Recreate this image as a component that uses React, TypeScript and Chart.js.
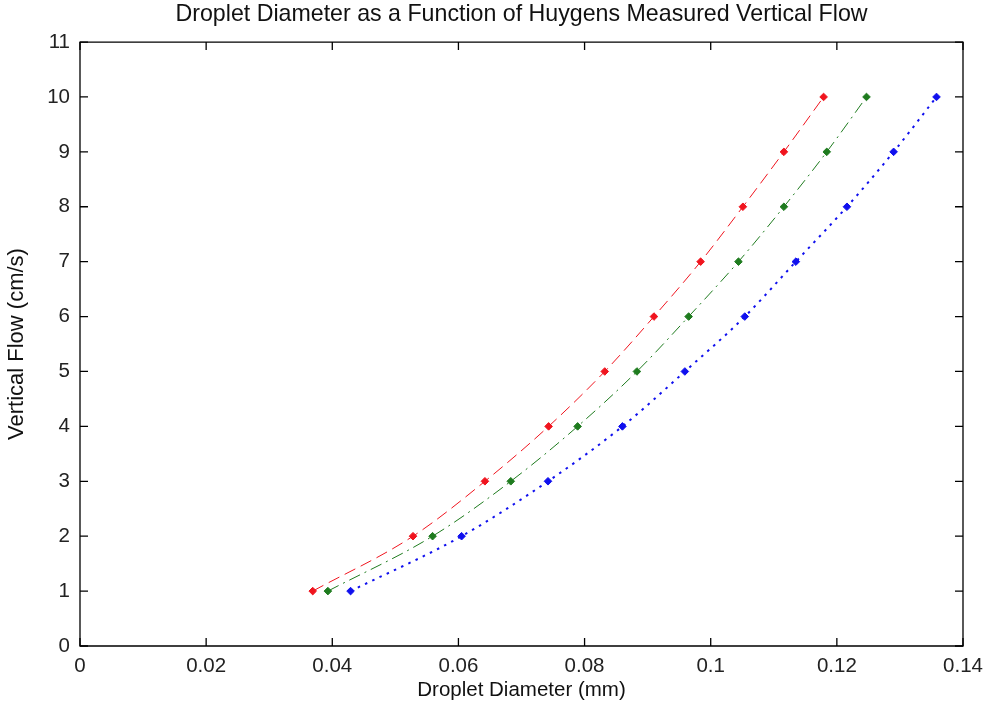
import React, { useEffect, useRef } from "react";
import { Chart, registerables } from "chart.js";

Chart.register(...registerables);

const titleText = "Droplet Diameter as a Function of Huygens Measured Vertical Flow";
const xLabel = "Droplet Diameter (mm)";
const yLabel = "Vertical Flow (cm/s)";

const flow = [1, 2, 3, 4, 5, 6, 7, 8, 9, 10];
const redDiameter = [0.0369, 0.0528, 0.0642, 0.0743, 0.0832, 0.091, 0.0984, 0.1051, 0.1116, 0.1179];
const greenDiameter = [0.0393, 0.0559, 0.0683, 0.0789, 0.0883, 0.0965, 0.1044, 0.1116, 0.1184, 0.1247];
const blueDiameter = [0.0429, 0.0605, 0.0742, 0.086, 0.0959, 0.1054, 0.1135, 0.1216, 0.129, 0.1358];

const xMin = 0;
const xMax = 0.14;
const xStep = 0.02;
const yMin = 0;
const yMax = 11;
const yStep = 1;

const FONT = 'Arial, "Liberation Sans", sans-serif';

const boxTicks = {
  id: "boxTicks",
  afterDatasetsDraw(chart: any) {
    const { ctx, chartArea } = chart;
    const { left, right, top, bottom } = chartArea;
    const xs = chart.scales.x;
    const ys = chart.scales.y;
    const len = 8;
    ctx.save();
    ctx.strokeStyle = "#000";
    ctx.lineWidth = 1.3;
    ctx.beginPath();
    ctx.rect(left, top, right - left, bottom - top);
    ctx.stroke();
    ctx.beginPath();
    xs.ticks.forEach((t: any) => {
      const px = xs.getPixelForValue(t.value);
      ctx.moveTo(px, bottom);
      ctx.lineTo(px, bottom - len);
      ctx.moveTo(px, top);
      ctx.lineTo(px, top + len);
    });
    ys.ticks.forEach((t: any) => {
      const py = ys.getPixelForValue(t.value);
      ctx.moveTo(left, py);
      ctx.lineTo(left + len, py);
      ctx.moveTo(right, py);
      ctx.lineTo(right - len, py);
    });
    ctx.stroke();
    ctx.restore();
  },
};

function makeSeries(xs: number[], color: string, dash: number[], width: number) {
  return {
    data: xs.map((x, i) => ({ x, y: flow[i] })),
    borderColor: color,
    backgroundColor: color,
    borderWidth: width,
    borderDash: dash,
    pointStyle: "rectRot" as const,
    pointRadius: 3.8,
    pointBorderWidth: 1,
    pointBorderColor: color,
    pointBackgroundColor: color,
    cubicInterpolationMode: "monotone" as const,
    showLine: true,
    fill: false,
  };
}

export default function App() {
  const ref = useRef<HTMLCanvasElement | null>(null);
  useEffect(() => {
    document.body.style.margin = "0";
    if (!ref.current) return;
    const chart = new Chart(ref.current, {
      type: "scatter",
      data: {
        datasets: [
          makeSeries(redDiameter, "#f0141e", [12, 6], 1),
          makeSeries(greenDiameter, "#1e7b1e", [12, 5, 2, 5], 1),
          makeSeries(blueDiameter, "#1010ee", [2.5, 5.5], 2),
        ],
      },
      options: {
        responsive: false,
        animation: false,
        layout: { padding: { left: 0, right: 29, top: 0, bottom: 0 } },
        plugins: {
          legend: { display: false },
          tooltip: { enabled: false },
          title: {
            display: true,
            fullSize: false,
            text: titleText,
            color: "#111",
            font: { family: FONT, size: 23.2, weight: "normal" },
            padding: { top: 1, bottom: 13.2 },
          },
        },
        scales: {
          x: {
            type: "linear",
            min: xMin,
            max: xMax,
            grid: { display: false, drawTicks: false },
            border: { display: false },
            ticks: {
              stepSize: xStep,
              padding: 8,
              color: "#222",
              font: { family: FONT, size: 20.5 },
              maxRotation: 0,
              callback: (v: any) => String(Number(Number(v).toFixed(2))),
            },
            title: {
              display: true,
              text: xLabel,
              color: "#111",
              font: { family: FONT, size: 20.5 },
              padding: { top: 0, bottom: 4 },
            },
            afterFit: (s: any) => {
              s.height = 61;
            },
          },
          y: {
            type: "linear",
            min: yMin,
            max: yMax,
            grid: { display: false, drawTicks: false },
            border: { display: false },
            ticks: {
              stepSize: yStep,
              padding: 10,
              color: "#222",
              font: { family: FONT, size: 20.5 },
            },
            title: {
              display: true,
              text: yLabel,
              color: "#111",
              font: { family: FONT, size: 22 },
              padding: { top: 4, bottom: 0 },
            },
            afterFit: (s: any) => {
              s.width = 80;
            },
          },
        },
      },
      plugins: [boxTicks],
    });
    return () => chart.destroy();
  }, []);
  return (
    <div style={{ width: 992, height: 707, background: "#fff" }}>
      <canvas ref={ref} width={992} height={707} />
    </div>
  );
}
